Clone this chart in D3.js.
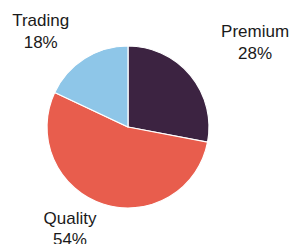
<!DOCTYPE html>
<html>
<head>
<meta charset="utf-8">
<script src="https://cdn.jsdelivr.net/npm/d3@7"></script>
<style>
  html, body { margin: 0; padding: 0; background: #fff; }
  svg { display: block; }
  text { font-family: "Liberation Sans", Arial, sans-serif; fill: #1a1a1a; }
</style>
</head>
<body>
<svg id="chart"></svg>
<script>
// slices, clockwise from 12 o'clock
const categories = ['Premium', 'Quality', 'Trading'];
const shares = [28, 54, 18];
const colours = ['#3c2341', '#e85d4d', '#8ec6e8'];

const width = 295, height = 244;
const cx = 128, cy = 127, radius = 81;

const svg = d3.select('#chart')
    .attr('width', width)
    .attr('height', height);

const data = categories.map((c, i) => ({ name: c, value: shares[i] }));

const pie = d3.pie().value(d => d.value).sort(null);
const arc = d3.arc().innerRadius(0).outerRadius(radius);
const colour = d3.scaleOrdinal().domain(categories).range(colours);

const g = svg.append('g').attr('transform', 'translate(' + cx + ',' + cy + ')');

const arcs = pie(data);

g.selectAll('path')
    .data(arcs)
    .enter()
    .append('path')
    .attr('d', arc)
    .attr('fill', d => colour(d.data.name))
    .attr('stroke', '#fff')
    .attr('stroke-width', 1.2);

// labels sit outside the pie, pushed out along each slice's mid angle
const labelArc = d3.arc().innerRadius(radius * 1.62).outerRadius(radius * 1.62);
const labelOffset = { Premium: [26, -6], Quality: [-17.5, -28], Trading: [-17, 10] };

const labels = svg.append('g').attr('transform', 'translate(' + cx + ',' + cy + ')')
    .selectAll('text')
    .data(arcs)
    .enter()
    .append('text')
    .attr('text-anchor', 'middle')
    .attr('font-size', 17)
    .attr('transform', d => {
        const p = labelArc.centroid(d);
        const o = labelOffset[d.data.name];
        return 'translate(' + (p[0] + o[0]) + ',' + (p[1] + o[1]) + ')';
    });

labels.append('tspan')
    .attr('x', 0)
    .text(d => d.data.name);

labels.append('tspan')
    .attr('x', 0)
    .attr('dy', 21.5)
    .text(d => d.data.value + '%');
</script>
</body>
</html>
